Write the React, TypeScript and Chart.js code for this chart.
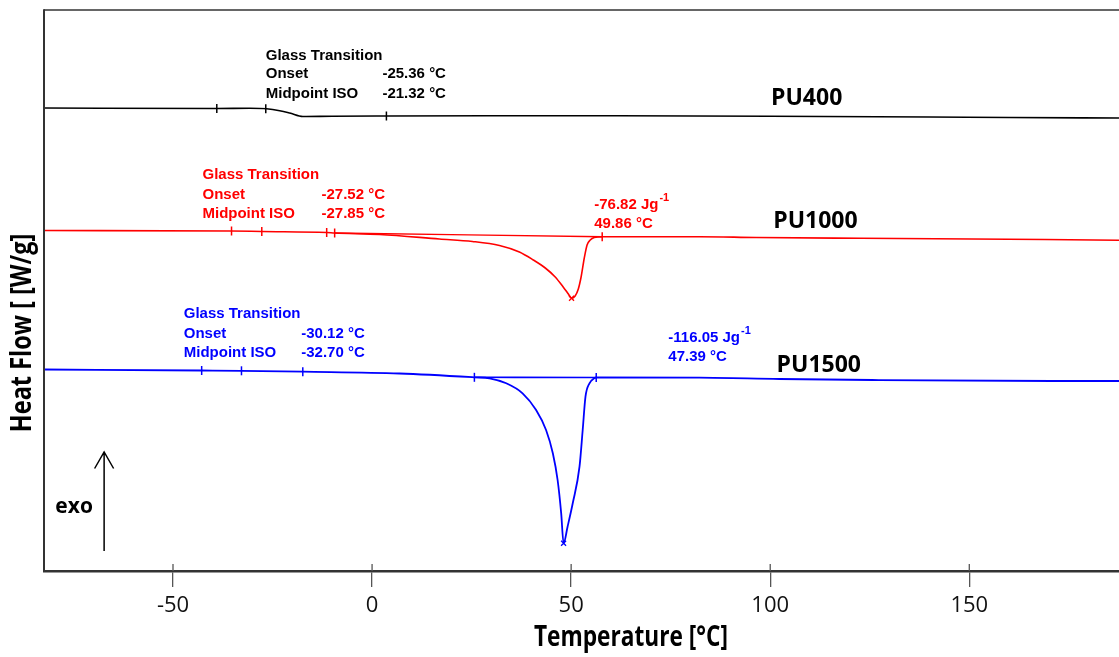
import React, { useEffect, useRef } from 'react';
import { Chart, registerables } from 'chart.js';

Chart.register(...registerables);

// ---- axis ----
const xMin = -82.4;
const xMax = 187.6;
const yMin = 0;
const yMax = 5.61;
const xTickValues = [-50, 0, 50, 100, 150];
const xTitle = 'Temperature [°C]';
const yTitle = 'Heat Flow [ [W/g]';

// ---- PU400 (black) ----
const pu400Temp = [-82.4, -39.0, -30.7, -26.5, -23.2, -20.7, -17.4, -10.0, 3.6, 30, 60, 100, 140, 160, 187.6];
const pu400Flow = [4.63, 4.625, 4.627, 4.622, 4.603, 4.58, 4.545, 4.548, 4.55, 4.552, 4.552, 4.548, 4.54, 4.535, 4.53];
const pu400MarkTemp = [-39.0, -26.7, 3.6];
const pu400MarkFlow = [4.625, 4.622, 4.55];

// ---- PU1000 (red) ----
const pu1000Temp = [-82.4, -35.3, -27.7, -11.4, -9.4, 1.9, 16.9, 25.2, 32.0, 37.0, 40.5, 43.5, 46.0, 48.0, 49.3, 50.1, 51.0, 51.8, 52.5, 53.3, 54.0, 54.8, 55.8, 57.8, 82.2, 96.5, 122.8, 169.0, 187.6];
const pu1000Flow = [3.405, 3.40, 3.395, 3.385, 3.38, 3.365, 3.32, 3.295, 3.255, 3.19, 3.11, 3.03, 2.94, 2.84, 2.77, 2.727, 2.75, 2.82, 2.94, 3.13, 3.26, 3.31, 3.335, 3.343, 3.343, 3.335, 3.327, 3.315, 3.307];
const pu1000MarkTemp = [-35.3, -27.7, -11.4, -9.4, 57.8];
const pu1000MarkFlow = [3.40, 3.395, 3.385, 3.38, 3.343];
const pu1000BaseTemp = [-9.4, 57.8];
const pu1000BaseFlow = [3.38, 3.343];
const pu1000PeakTemp = [50.1];
const pu1000PeakFlow = [2.727];

// ---- PU1500 (blue) ----
const pu1500Temp = [-82.4, -42.8, -32.8, -17.4, 6.9, 25.7, 29.5, 33.7, 37.8, 41.2, 43.7, 45.4, 46.6, 47.5, 48.1, 49.1, 50.4, 52.1, 52.9, 53.6, 54.6, 55.8, 56.3, 82.2, 102.3, 125.6, 170.8, 187.6];
const pu1500Flow = [2.015, 2.005, 2.002, 1.993, 1.975, 1.937, 1.927, 1.877, 1.777, 1.61, 1.41, 1.177, 0.91, 0.577, 0.277, 0.443, 0.677, 1.043, 1.41, 1.743, 1.877, 1.927, 1.935, 1.933, 1.92, 1.91, 1.90, 1.90];
const pu1500MarkTemp = [-42.8, -32.8, -17.4, 25.7, 56.3];
const pu1500MarkFlow = [2.005, 2.002, 1.993, 1.937, 1.935];
const pu1500BaseTemp = [25.7, 56.3];
const pu1500BaseFlow = [1.937, 1.935];
const pu1500PeakTemp = [48.1];
const pu1500PeakFlow = [0.277];

// ---- annotation texts ----
const blackText = ['Glass Transition', 'Onset', '-25.36 °C', 'Midpoint ISO', '-21.32 °C'];
const blackTextTemp = [-26.7, -26.7, 2.6, -26.7, 2.6];
const blackTextFlow = [5.15, 4.97, 4.97, 4.77, 4.77];

const redText = ['Glass Transition', 'Onset', '-27.52 °C', 'Midpoint ISO', '-27.85 °C', '-76.82 Jg', '49.86 °C'];
const redTextTemp = [-42.6, -42.6, -12.7, -42.6, -12.7, 55.8, 55.8];
const redTextFlow = [3.96, 3.76, 3.76, 3.57, 3.57, 3.66, 3.47];

const blueText = ['Glass Transition', 'Onset', '-30.12 °C', 'Midpoint ISO', '-32.70 °C', '-116.05 Jg', '47.39 °C'];
const blueTextTemp = [-47.3, -47.3, -17.8, -47.3, -17.8, 74.4, 74.4];
const blueTextFlow = [2.57, 2.37, 2.37, 2.18, 2.18, 2.33, 2.14];

const seriesNames = ['PU400', 'PU1000', 'PU1500'];
const seriesNameTemp = [100.2, 100.75, 101.6];
const seriesNameFlow = [4.725, 3.493, 2.06];

const exoLabel = 'exo';
const exoArrowTemp = -67.3;
const exoArrowFlow = [0.2, 1.19];

const BLACK = '#000000';
const RED = '#ff0000';
const BLUE = '#0000ff';

const pts = (xs: number[], ys: number[]) => xs.map((x, i) => ({ x, y: ys[i] }));

const curve = (label: string, xs: number[], ys: number[], color: string, width: number) => ({
  label,
  data: pts(xs, ys),
  showLine: true,
  borderColor: color,
  backgroundColor: color,
  borderWidth: width,
  pointRadius: 0,
  cubicInterpolationMode: 'monotone' as const,
});

const marks = (label: string, xs: number[], ys: number[], color: string) => ({
  label,
  data: pts(xs, ys),
  showLine: false,
  borderColor: color,
  backgroundColor: color,
  pointStyle: 'line' as const,
  rotation: 90,
  pointRotation: 90,
  pointRadius: 4.5,
  borderWidth: 1.5,
});

const peak = (label: string, xs: number[], ys: number[], color: string) => ({
  label,
  data: pts(xs, ys),
  showLine: false,
  borderColor: color,
  backgroundColor: color,
  pointStyle: 'crossRot' as const,
  pointRadius: 3.5,
  borderWidth: 1.3,
});

export default function App() {
  const ref = useRef<HTMLCanvasElement>(null);

  useEffect(() => {
    let chart: Chart | null = null;
    let cancelled = false;

    const overlay = {
      id: 'overlay',
      afterDraw(c: any) {
        const ctx: CanvasRenderingContext2D = c.ctx;
        const { left, top, right, bottom } = c.chartArea;
        const xs = c.scales.x;
        const ys = c.scales.y;
        ctx.save();

        // frame lines
        ctx.strokeStyle = '#333';
        ctx.lineWidth = 2;
        ctx.beginPath();
        ctx.moveTo(left, top - 0.75);
        ctx.lineTo(left, bottom);
        ctx.stroke();
        ctx.lineWidth = 1.5;
        ctx.beginPath();
        ctx.moveTo(left, top);
        ctx.lineTo(right, top);
        ctx.stroke();

        // inner part of x ticks
        ctx.strokeStyle = '#555';
        ctx.lineWidth = 1.3;
        xTickValues.forEach((v) => {
          const px = xs.getPixelForValue(v);
          ctx.beginPath();
          ctx.moveTo(px, bottom - 7);
          ctx.lineTo(px, bottom);
          ctx.stroke();
        });

        // y title
        ctx.save();
        ctx.translate(23, 333);
        ctx.rotate(-Math.PI / 2);
        ctx.scale(0.84, 1);
        ctx.font = 'bold 28px "Open Sans"';
        ctx.fillStyle = '#000';
        ctx.textAlign = 'center';
        ctx.textBaseline = 'middle';
        ctx.fillText(yTitle, 0, 0);
        ctx.restore();

        // x title
        ctx.save();
        ctx.translate(631, 646);
        ctx.scale(0.81, 1);
        ctx.font = 'bold 28px "Open Sans"';
        ctx.fillStyle = '#000';
        ctx.textAlign = 'center';
        ctx.textBaseline = 'alphabetic';
        ctx.fillText(xTitle, 0, 0);
        ctx.restore();

        // exo arrow
        const ax = xs.getPixelForValue(exoArrowTemp);
        const ay0 = ys.getPixelForValue(exoArrowFlow[0]);
        const ay1 = ys.getPixelForValue(exoArrowFlow[1]);
        ctx.strokeStyle = '#000';
        ctx.lineWidth = 1.5;
        ctx.beginPath();
        ctx.moveTo(ax, ay0);
        ctx.lineTo(ax, ay1);
        ctx.moveTo(ax - 9.5, ay1 + 16.5);
        ctx.lineTo(ax, ay1);
        ctx.lineTo(ax + 9.5, ay1 + 16.5);
        ctx.stroke();
        ctx.font = 'bold 21px "Open Sans"';
        ctx.fillStyle = '#000';
        ctx.textAlign = 'center';
        ctx.textBaseline = 'middle';
        ctx.fillText(exoLabel, ax - 30, ay0 - 44);

        // series names
        ctx.font = 'bold 23px "Open Sans"';
        ctx.textAlign = 'left';
        ctx.textBaseline = 'middle';
        seriesNames.forEach((n, i) => {
          ctx.fillText(n, xs.getPixelForValue(seriesNameTemp[i]), ys.getPixelForValue(seriesNameFlow[i]));
        });

        // annotation texts
        const drawGroup = (texts: string[], tx: number[], ty: number[], color: string) => {
          ctx.fillStyle = color;
          ctx.textAlign = 'left';
          ctx.textBaseline = 'middle';
          texts.forEach((t, i) => {
            const px = xs.getPixelForValue(tx[i]);
            const py = ys.getPixelForValue(ty[i]);
            ctx.font = 'bold 15px "Liberation Sans", Arial, sans-serif';
            ctx.fillText(t, px, py);
            if (t.endsWith('Jg')) {
              const w = ctx.measureText(t).width;
              ctx.font = 'bold 11px "Liberation Sans", Arial, sans-serif';
              ctx.fillText('-1', px + w + 1, py - 7);
            }
          });
        };
        drawGroup(blackText, blackTextTemp, blackTextFlow, BLACK);
        drawGroup(redText, redTextTemp, redTextFlow, RED);
        drawGroup(blueText, blueTextTemp, blueTextFlow, BLUE);

        ctx.restore();
      },
    };

    const create = () => {
      if (cancelled || !ref.current) return;
      chart = new Chart(ref.current, {
        type: 'scatter',
        data: {
          datasets: [
            peak('PU1000 peak', pu1000PeakTemp, pu1000PeakFlow, RED),
            peak('PU1500 peak', pu1500PeakTemp, pu1500PeakFlow, BLUE),
            marks('PU400 marks', pu400MarkTemp, pu400MarkFlow, BLACK),
            marks('PU1000 marks', pu1000MarkTemp, pu1000MarkFlow, RED),
            marks('PU1500 marks', pu1500MarkTemp, pu1500MarkFlow, BLUE),
            curve('PU1000 baseline', pu1000BaseTemp, pu1000BaseFlow, RED, 1.4),
            curve('PU1500 baseline', pu1500BaseTemp, pu1500BaseFlow, BLUE, 1.6),
            curve('PU400', pu400Temp, pu400Flow, BLACK, 1.6),
            curve('PU1000', pu1000Temp, pu1000Flow, RED, 1.6),
            curve('PU1500', pu1500Temp, pu1500Flow, BLUE, 1.8),
          ] as any,
        },
        options: {
          animation: false,
          responsive: false,
          maintainAspectRatio: false,
          events: [],
          layout: { padding: { left: 44, top: 10, right: 0, bottom: 31.6 } },
          plugins: { legend: { display: false }, tooltip: { enabled: false } },
          scales: {
            x: {
              type: 'linear',
              min: xMin,
              max: xMax,
              afterBuildTicks: (s: any) => {
                s.ticks = xTickValues.map((v) => ({ value: v }));
              },
              grid: {
                display: true,
                drawOnChartArea: false,
                drawTicks: true,
                tickLength: 16,
                color: '#555',
                lineWidth: 1.3,
              },
              border: { display: true, color: '#333', width: 2.5 },
              ticks: {
                font: { family: '"Open Sans"', size: 22 },
                color: '#111',
                padding: 6,
                maxRotation: 0,
                autoSkip: false,
              },
            },
            y: {
              type: 'linear',
              display: false,
              min: yMin,
              max: yMax,
            },
          },
        } as any,
        plugins: [overlay],
      });
    };

    const fontsReady = (document as any).fonts
      ? Promise.all([
          (document as any).fonts.load('bold 23px "Open Sans"'),
          (document as any).fonts.load('22px "Open Sans"'),
          (document as any).fonts.load('bold 15px "Liberation Sans"'),
        ]).catch(() => null)
      : Promise.resolve(null);
    fontsReady.then(create);

    return () => {
      cancelled = true;
      if (chart) chart.destroy();
    };
  }, []);

  return (
    <div style={{ position: 'fixed', left: 0, top: 0, width: 1119, height: 657, overflow: 'hidden', background: '#fff' }}>
      <canvas ref={ref} width={1125} height={657} style={{ width: 1125, height: 657, display: 'block' }} />
    </div>
  );
}
